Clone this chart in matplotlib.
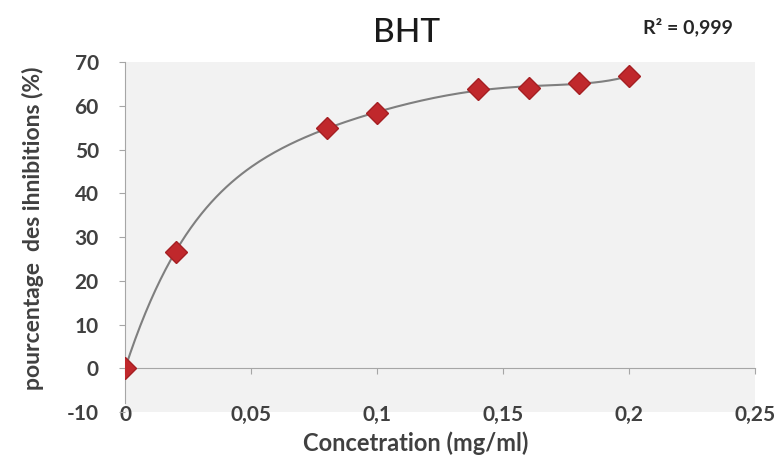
import numpy as np
import matplotlib.pyplot as plt

conc = [0, 0.02, 0.08, 0.1, 0.14, 0.16, 0.18, 0.2]
inhib = [0, 26.7, 54.9, 58.4, 63.8, 64.1, 65.2, 66.8]
xticks = [0, 0.05, 0.1, 0.15, 0.2, 0.25]
xlabels = ['0', '0,05', '0,1', '0,15', '0,2', '0,25']
yticks = [-10, 0, 10, 20, 30, 40, 50, 60, 70]

plt.rcParams['font.family'] = ['Lato', 'DejaVu Sans']
txt = '#404040'
grey = '#a6a6a6'

fig = plt.figure(figsize=(7.82, 4.70), dpi=100)
ax = fig.add_axes([0.160, 0.123, 0.806, 0.745])
ax.set_facecolor('#f2f2f2')
ax.set_xlim(0, 0.25)
ax.set_ylim(-10, 70)

# trend line (polynomial fit, as the spreadsheet trendline)
p = np.polyfit(conc, inhib, 5)
xs = np.linspace(0, 0.2, 200)
ax.plot(xs, np.polyval(p, xs), color='#7f7f7f', lw=1.5, zorder=2)
ax.plot(conc, inhib, ls='none', marker='D', ms=11, color='#c0282c',
        markeredgecolor='#a51f22', zorder=3)

for s in ['top', 'right', 'bottom']:
    ax.spines[s].set_visible(False)
ax.spines['left'].set_color(grey)
ax.spines['left'].set_bounds(-8, 70)
ax.set_yticks(yticks)
ax.set_yticklabels([str(v) for v in yticks])
ax.tick_params(axis='y', colors=grey, length=4, labelcolor=txt, labelsize=15, pad=15)
ax.set_xticks(xticks)
ax.set_xticklabels(xlabels)
ax.tick_params(axis='x', length=0, labelcolor=txt, labelsize=15, pad=-5)
for lab in ax.get_xticklabels() + ax.get_yticklabels():
    lab.set_fontweight('bold')

# horizontal axis crossing at y=0
sec = ax.secondary_xaxis(10 / 80)
sec.set_xticks(xticks)
sec.tick_params(axis='x', colors=grey, length=4, labelbottom=False)
sec.spines['bottom'].set_color(grey)

fig.text(0.52, 0.93, 'BHT', ha='center', va='center', fontsize=24,
         fontweight='medium', color='#1a1a1a')
fig.text(0.88, 0.943, 'R² = 0,999', ha='center', va='center', fontsize=14,
         fontweight='bold', color='#262626')
fig.text(0.532, 0.058, 'Concetration (mg/ml)', ha='center', va='center',
         fontsize=17, fontweight='bold', color=txt)
fig.text(0.042, 0.515, 'pourcentage  des ihnibitions (%)', ha='center', va='center',
         rotation=90, fontsize=16.5, fontweight='bold', color=txt)

fig.savefig('out.png', dpi=100)
